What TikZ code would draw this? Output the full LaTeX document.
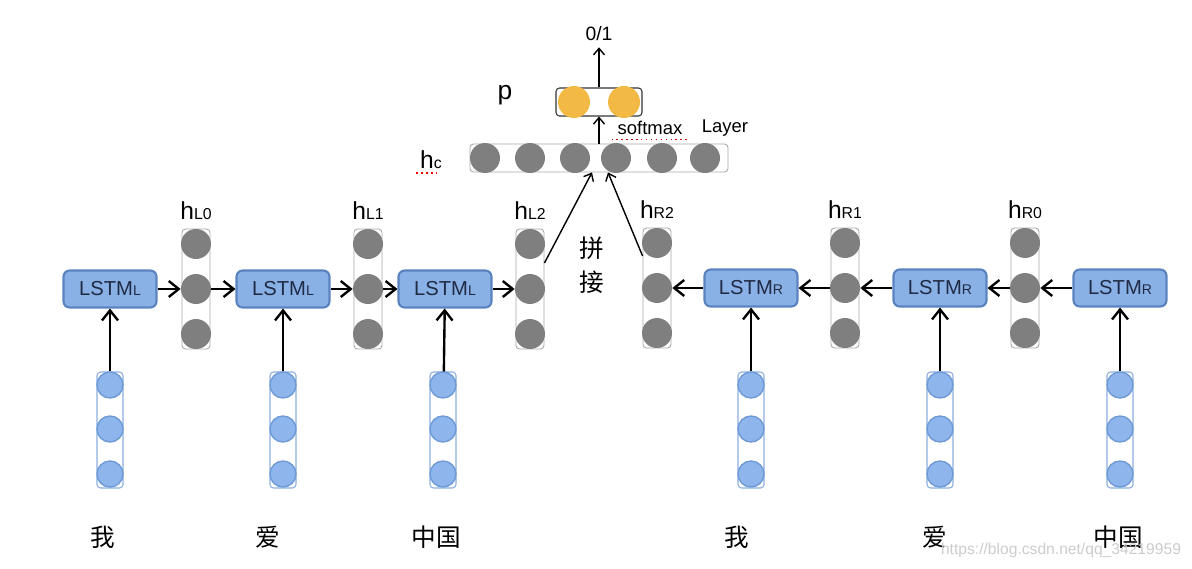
\documentclass[tikz,border=0pt]{standalone}
\usepackage{fontspec}
\setmainfont{Liberation Sans}
\newfontfamily\cjk{Noto Sans CJK SC}
\usetikzlibrary{arrows.meta,positioning}

\definecolor{lstmfill}{HTML}{8AB1E6}
\definecolor{lstmdraw}{HTML}{5A83BF}
\definecolor{lstmtext}{HTML}{1F2A44}
\definecolor{xfill}{HTML}{8FB6EC}
\definecolor{xdraw}{HTML}{6E9AD6}
\definecolor{hgray}{HTML}{7F7F7F}
\definecolor{boxgray}{HTML}{A8A8A8}
\definecolor{porange}{HTML}{F2B945}

\newcommand\lsub[1]{{\fontsize{8}{8}\selectfont #1}}
\newcommand\hsub[1]{{\fontsize{9}{9}\selectfont #1}}

\begin{document}
\begin{tikzpicture}[x=0.02cm,y=-0.02cm,
    >={Straight Barb[length=2mm,width=3.2mm]},
    lstm/.style={draw=lstmdraw,fill=lstmfill,line width=1.2pt,rounded corners=3.5pt,
      minimum width=1.86cm,minimum height=0.74cm,text=lstmtext,font=\fontsize{11.5}{11.5}\selectfont},
    hbox/.style={draw=boxgray,line width=0.5pt,rounded corners=2pt,minimum width=0.56cm},
    hdot/.style={circle,fill=hgray,minimum size=0.6cm,inner sep=0pt},
    xbox/.style={draw=xdraw!80,line width=0.6pt,rounded corners=2pt,
      minimum width=0.52cm,minimum height=2.32cm},
    xdot/.style={circle,draw=xdraw,fill=xfill,line width=0.8pt,minimum size=0.52cm,inner sep=0pt},
    pdot/.style={circle,fill=porange,minimum size=0.64cm,inner sep=0pt},
    hlab/.style={inner sep=1pt,font=\fontsize{14}{14}\selectfont},
    word/.style={font=\cjk\fontsize{14}{14}\selectfont},
    flow/.style={->,line width=1.35pt},
    concat/.style={-{Straight Barb[length=1.3mm,width=2.2mm]},line width=0.8pt}]
    \useasboundingbox (0,0) rectangle (1192,568);

    % LSTM cells
    \node[lstm] (lstmL0) at (110,289) {LSTM\lsub{L}};
    \node[lstm] (lstmL1) at (283,289) {LSTM\lsub{L}};
    \node[lstm] (lstmL2) at (445,289) {LSTM\lsub{L}};
    \node[lstm] (lstmR2) at (751,288) {LSTM\lsub{R}};
    \node[lstm] (lstmR1) at (940,288) {LSTM\lsub{R}};
    \node[lstm] (lstmR0) at (1120,288) {LSTM\lsub{R}};

    % hidden states
    \foreach \n/\x/\y in {L0/196/289,L1/368/289,L2/530/289,R2/657/288,R1/845/288,R0/1025/288} {
      \node[hbox,minimum height=2.4cm] (h\n) at (\x,\y) {};
      \node[hdot] (h\n a) at (\x,\y-45) {};
      \node[hdot] (h\n b) at (\x,\y) {};
      \node[hdot] (h\n c) at (\x,\y+45) {};
      \node[hlab,above=4pt of h\n] (lab\n) {h\hsub{\n}};
    }

    % word vectors
    \foreach \n/\x in {L0/110,L1/283,L2/443,R2/751,R1/940,R0/1120} {
      \node[xbox] (x\n) at (\x,430) {};
      \node[xdot] (x\n a) at (\x,385) {};
      \node[xdot] (x\n b) at (\x,429) {};
      \node[xdot] (x\n c) at (\x,474) {};
      \draw[flow] (x\n) -- (lstm\n);
    }

    \node[word] (wL0) at (103,537) {我};
    \node[word] (wL1) at (268,537) {爱};
    \node[word] (wL2) at (436,537) {中国};
    \node[word] (wR2) at (737,537) {我};
    \node[word] (wR1) at (935,537) {爱};
    \node[word] (wR0) at (1118,537) {中国};

    \path[flow]
    (lstmL0) edge (hL0b)
    (hL0b) edge (lstmL1)
    (lstmL1) edge (hL1b)
    (hL1b) edge (lstmL2)
    (lstmL2) edge (hL2b)

    (lstmR0) edge (hR0b)
    (hR0b) edge (lstmR1)
    (lstmR1) edge (hR1b)
    (hR1b) edge (lstmR2)
    (lstmR2) edge (hR2b)
    ;

    % concatenation
    \node[hbox,minimum width=5.16cm,minimum height=0.56cm] (hc) at (599,158) {};
    \foreach \i/\x in {1/485,2/530,3/575,4/616,5/662,6/705}
      \node[hdot] (hc\i) at (\x,158) {};
    \node[hlab] (labc) at (431,160) {h\hsub{c}};
    \draw[red,dotted,line width=0.8pt] ([xshift=-1pt,yshift=-1pt]labc.south west) -- ([xshift=-3pt,yshift=-1pt]labc.south east);
    \node[word,align=center,font=\cjk\fontsize{14}{19}\selectfont] (pinjie) at (592,265) {拼\\接};
    \draw[concat] ([yshift=0.52cm]hL2.east) -- ([xshift=-0.14cm]hc.south);
    \draw[concat] ([yshift=0.64cm]hR2.west) -- ([xshift=0.18cm]hc.south);

    % softmax output
    \node[draw=black!80,line width=0.6pt,rounded corners=2pt,minimum width=1.72cm,minimum height=0.56cm] (p) at (599,102) {};
    \node[pdot] (p1) at (574,102) {};
    \node[pdot] (p2) at (624,102) {};
    \node[font=\fontsize{15}{15}\selectfont] (plab) at (505,95) {p};
    \node[font=\fontsize{11}{11}\selectfont] (out) at (599,34) {0/1};
    \node[font=\fontsize{10.5}{10.5}\selectfont] (smax) at (650,128) {softmax};
    \node[font=\fontsize{10.5}{10.5}\selectfont] (layer) at (725,128) {Layer};
    \draw[red!80!black,dotted,line width=0.8pt] ([yshift=1pt]smax.south west) -- ([yshift=1pt]smax.south east);
    \draw[concat] (hc.north) -- (p.south);
    \draw[concat] (p.north) -- (out.south);

    \node[text=black!20,font=\fontsize{8.9}{8.9}\selectfont] (wm) at (1061,550) {https://blog.csdn.net/qq\_34219959};
\end{tikzpicture}
\end{document}
